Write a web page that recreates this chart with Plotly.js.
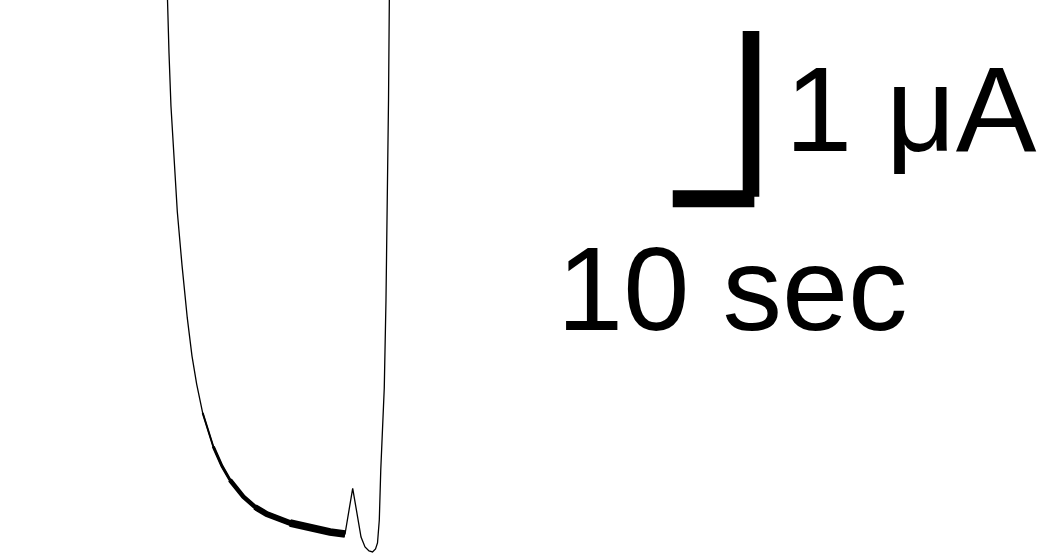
<!DOCTYPE html>
<html>
<head>
<meta charset="utf-8">
<script src="https://cdn.plot.ly/plotly-3.0.1.min.js"></script>
<style>
html,body{margin:0;padding:0;background:#fff;}
#chart{width:1046px;height:553px;}
</style>
</head>
<body>
<div id="chart"></div>
<script>
// Current trace: time (s) and current (μA), baseline current = 0
const timeSec = [-0.18, 0, 0.21, 0.45, 0.82, 1.23, 1.80, 2.45, 3.03, 3.60, 4.34, 5.64, 6.70, 7.68, 9.32, 10.75, 12.18, 15.04, 17.86, 19.94, 21.78,
  22.72, 23.06, 23.37, 23.74, 24.23, 24.72, 25.15, 25.52, 25.76, 25.89, 25.98, 26.16, 26.59, 26.80, 26.96, 27.11, 27.21, 27.27];
const currentUA = [3.603, 3.241, 2.921, 2.601, 2.275, 1.961, 1.642, 1.322, 1.092, 0.923, 0.748, 0.545, 0.428, 0.344, 0.243, 0.181, 0.139, 0.0845, 0.0483, 0.0302, 0.0181,
  0.294, 0.193, 0.0905, 0, -0.0604, -0.0845, -0.0905, -0.0724, -0.0362, 0.0241, 0.1026, 0.404, 0.899, 1.430, 1.961, 2.637, 3.241, 3.603];

// Scale bar: 10 sec horizontal, 1 μA vertical
const scaleTimeLength = 10;        // sec
const scaleCurrentLength = 1;      // μA
const scaleHorizStartTime = 61.94; // sec
const scaleHorizCurrent = 2.042;   // μA
const scaleVertTime = 71.53;       // sec
const scaleVertBaseCurrent = 2.054; // μA
const scaleLabels = ["1 μA", "10 sec"];

const xRange = [-20.50, 107.68];
const yRange = [-0.0966, 3.2408];

// indices for the thicker noisy baseline section
const endIdx = timeSec.indexOf(21.78);
function seg(fromT, width) {
  const i0 = timeSec.indexOf(fromT);
  return {
    x: timeSec.slice(i0, endIdx + 1),
    y: currentUA.slice(i0, endIdx + 1),
    mode: 'lines', type: 'scatter', hoverinfo: 'skip',
    line: {color: '#000', width: width}, showlegend: false
  };
}

const traces = [
  {x: timeSec, y: currentUA, mode: 'lines', type: 'scatter',
   line: {color: '#000', width: 1.3}, showlegend: false},
  seg(4.34, 2),
  seg(5.64, 3),
  seg(7.68, 4.5),
  seg(10.75, 6),
  seg(15.04, 7.5),
  // horizontal scale bar
  {x: [scaleHorizStartTime, scaleHorizStartTime + scaleTimeLength], y: [scaleHorizCurrent, scaleHorizCurrent],
   mode: 'lines', type: 'scatter', line: {color: '#000', width: 17}, showlegend: false},
  // vertical scale bar
  {x: [scaleVertTime, scaleVertTime], y: [scaleVertBaseCurrent, scaleVertBaseCurrent + scaleCurrentLength],
   mode: 'lines', type: 'scatter', line: {color: '#000', width: 16.6}, showlegend: false}
];

const layout = {
  width: 1046, height: 553,
  margin: {l: 0, r: 0, t: 0, b: 0},
  paper_bgcolor: '#fff', plot_bgcolor: '#fff',
  xaxis: {range: xRange, visible: false, fixedrange: true},
  yaxis: {range: yRange, visible: false, fixedrange: true},
  showlegend: false,
  annotations: [
    {text: scaleLabels[0], xref: 'paper', yref: 'paper', x: 783/1046, y: 1 - 109/553,
     xanchor: 'left', yanchor: 'middle', showarrow: false,
     font: {family: 'Liberation Sans, Arial, sans-serif', size: 121, color: '#000'}},
    {text: scaleLabels[1], xref: 'paper', yref: 'paper', x: 555/1046, y: 1 - 288/553,
     xanchor: 'left', yanchor: 'middle', showarrow: false,
     font: {family: 'Liberation Sans, Arial, sans-serif', size: 119, color: '#000'}}
  ]
};

Plotly.newPlot('chart', traces, layout, {staticPlot: true, displayModeBar: false});
</script>
</body>
</html>
